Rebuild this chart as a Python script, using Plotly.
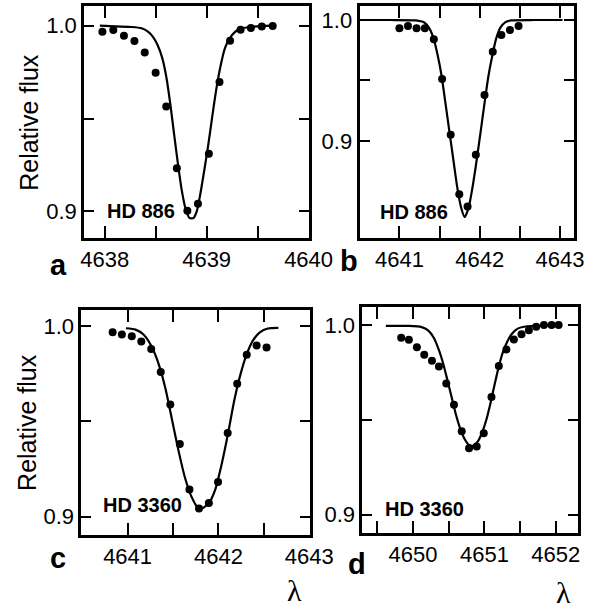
import plotly.graph_objects as go

# ---------------- data ----------------
# Panel a : HD 886, 4638-4640
a_dots_x = [4637.978, 4638.085, 4638.189, 4638.292, 4638.393, 4638.500, 4638.604, 4638.708, 4638.811,
            4638.915, 4639.022, 4639.126, 4639.230, 4639.333, 4639.434, 4639.541, 4639.648]
a_dots_y = [0.9968, 0.9977, 0.9946, 0.9918, 0.9855, 0.9746, 0.9565, 0.9233, 0.9004,
            0.9041, 0.9310, 0.9697, 0.9919, 0.9978, 0.9987, 0.9996, 0.9998]
a_line_x = [4637.953, 4638.110, 4638.267, 4638.362, 4638.425, 4638.472, 4638.519, 4638.566, 4638.607,
            4638.645, 4638.682, 4638.720, 4638.758, 4638.796, 4638.833, 4638.871, 4638.903, 4638.934,
            4638.975, 4639.016, 4639.053, 4639.091, 4639.132, 4639.179, 4639.226, 4639.274, 4639.321,
            4639.431, 4639.541, 4639.651]
a_line_y = [1.0, 0.9996, 0.9993, 0.9986, 0.9968, 0.9941, 0.9896, 0.9824, 0.9717,
            0.9573, 0.9412, 0.9251, 0.9108, 0.9009, 0.8964, 0.8964, 0.9000, 0.9081,
            0.9215, 0.9358, 0.9502, 0.9645, 0.9771, 0.9878, 0.9932, 0.9964, 0.9982,
            0.9993, 0.9998, 1.0]

# Panel b : HD 886, 4641-4643
b_dots_x = [4641.000, 4641.107, 4641.214, 4641.317, 4641.429, 4641.532, 4641.639, 4641.746,
            4641.849, 4641.952, 4642.060, 4642.163, 4642.270, 4642.377, 4642.484]
b_dots_y = [0.9931, 0.9950, 0.9931, 0.9931, 0.9840, 0.9512, 0.9050, 0.8559,
            0.8457, 0.8884, 0.9380, 0.9738, 0.9876, 0.9917, 0.9950]
b_line_x = [4640.591, 4640.889, 4641.206, 4641.306, 4641.373, 4641.425, 4641.476, 4641.524,
            4641.571, 4641.623, 4641.675, 4641.722, 4641.770, 4641.813, 4641.861, 4641.909,
            4641.960, 4642.012, 4642.063, 4642.111, 4642.159, 4642.206, 4642.258, 4642.317,
            4642.397, 4642.675, 4643.032]
b_line_y = [1.0, 1.0, 0.9997, 0.9981, 0.9931, 0.9848, 0.9711, 0.9545,
            0.9325, 0.9077, 0.8829, 0.8609, 0.8444, 0.8369, 0.8444, 0.8609,
            0.8829, 0.9077, 0.9325, 0.9545, 0.9711, 0.9848, 0.9937, 0.9981,
            0.9997, 1.0, 1.0]

# Panel c : HD 3360, 4641-4643
c_dots_x = [4640.835, 4640.937, 4641.046, 4641.151, 4641.260, 4641.365, 4641.470, 4641.575,
            4641.681, 4641.786, 4641.895, 4641.996, 4642.102, 4642.207, 4642.312, 4642.421, 4642.530]
c_dots_y = [0.9968, 0.9956, 0.9947, 0.9919, 0.9880, 0.9759, 0.9589, 0.9381,
            0.9142, 0.9042, 0.9071, 0.9181, 0.9439, 0.9697, 0.9850, 0.9899, 0.9888]
c_line_x = [4640.982, 4641.088, 4641.175, 4641.263, 4641.351, 4641.421, 4641.491, 4641.561,
            4641.632, 4641.702, 4641.772, 4641.825, 4641.895, 4641.965, 4642.035, 4642.105,
            4642.175, 4642.246, 4642.316, 4642.386, 4642.456, 4642.544, 4642.660]
c_line_y = [0.9989, 0.9982, 0.9956, 0.9894, 0.9788, 0.9664, 0.9504, 0.9345,
            0.9204, 0.9106, 0.9048, 0.9044, 0.9071, 0.9142, 0.9274, 0.9434,
            0.9611, 0.9752, 0.9858, 0.9929, 0.9968, 0.9988, 0.9991]

# Panel d : HD 3360, 4650-4652
d_dots_x = [4649.834, 4649.942, 4650.054, 4650.157, 4650.265, 4650.363, 4650.466, 4650.574,
            4650.682, 4650.785, 4650.892, 4650.991, 4651.099, 4651.202, 4651.309, 4651.413,
            4651.520, 4651.623, 4651.726, 4651.834, 4651.942, 4652.040]
d_dots_y = [0.9933, 0.9922, 0.9883, 0.9843, 0.9811, 0.9781, 0.9691, 0.9580,
            0.9440, 0.9350, 0.9359, 0.9429, 0.9620, 0.9784, 0.9871, 0.9924,
            0.9951, 0.9972, 0.9991, 1.0, 1.0, 1.0]
d_line_x = [4649.619, 4649.942, 4650.121, 4650.211, 4650.291, 4650.368, 4650.426, 4650.480,
            4650.538, 4650.596, 4650.659, 4650.717, 4650.785, 4650.848, 4650.906, 4650.964,
            4651.027, 4651.085, 4651.143, 4651.197, 4651.256, 4651.323, 4651.386, 4651.466,
            4651.556, 4651.691, 4651.870, 4652.072]
d_line_y = [0.9995, 0.9995, 0.9989, 0.9972, 0.9933, 0.9862, 0.9792, 0.9712,
            0.9624, 0.9535, 0.9456, 0.9403, 0.9367, 0.9364, 0.9385, 0.9429,
            0.9500, 0.9588, 0.9686, 0.9774, 0.9853, 0.9915, 0.9954, 0.9981,
            0.9991, 0.9995, 0.9996, 1.0]

star_labels = ["HD 886", "HD 886", "HD 3360", "HD 3360"]
panel_letters = ["a", "b", "c", "d"]
# tick positions (labelled and unlabelled half-steps)
x_tickvals = [[4638, 4638.5, 4639, 4639.5, 4640],
              [4640.5, 4641, 4641.5, 4642, 4642.5, 4643],
              [4640.5, 4641, 4641.5, 4642, 4642.5, 4643],
              [4649.5, 4650, 4650.5, 4651, 4651.5, 4652]]
x_ticktext = [["4638", "", "4639", "", "4640"],
              ["", "4641", "", "4642", "", "4643"],
              ["", "4641", "", "4642", "", "4643"],
              ["", "4650", "", "4651", "", "4652"]]
y_tickvals = [0.9, 0.95, 1.0]
y_ticktext = ["0.9", "", "1.0"]

# ---------------- figure ----------------
W, H = 613, 610
FONT = "Liberation Sans, Arial, Helvetica, sans-serif"

panels = [
    dict(dx=a_dots_x, dy=a_dots_y, lx=a_line_x, ly=a_line_y,
         xr=[4637.80, 4640.003], yr=[0.8857, 1.0106], px=(85, 320), py=(6, 238),
         lab=(4638.0, 0.9005)),
    dict(dx=b_dots_x, dy=b_dots_y, lx=b_line_x, ly=b_line_y,
         xr=[4640.504, 4643.171], yr=[0.8196, 1.0116], px=(373, 597), py=(6, 238),
         lab=(4640.738, 0.8413)),
    dict(dx=c_dots_x, dy=c_dots_y, lx=c_line_x, ly=c_line_y,
         xr=[4640.491, 4643.007], yr=[0.8903, 1.0085], px=(82, 321), py=(310, 535),
         lab=(4640.712, 0.9062)),
    dict(dx=d_dots_x, dy=d_dots_y, lx=d_line_x, ly=d_line_y,
         xr=[4649.291, 4652.305], yr=[0.8903, 1.0095], px=(376, 601), py=(307, 533),
         lab=(4649.583, 0.9028)),
]

fig = go.Figure()
layout = dict(width=W, height=H, margin=dict(l=0, r=0, t=0, b=0),
              paper_bgcolor="white", plot_bgcolor="white", showlegend=False,
              font=dict(family=FONT, color="black"))
annotations = []

for i, p in enumerate(panels):
    n = "" if i == 0 else str(i + 1)
    xa, ya = "x" + n, "y" + n
    fig.add_trace(go.Scatter(x=p["lx"], y=p["ly"], mode="lines", xaxis=xa, yaxis=ya,
                             line=dict(color="black", width=2.2, shape="spline", smoothing=0.6),
                             hoverinfo="skip"))
    fig.add_trace(go.Scatter(x=p["dx"], y=p["dy"], mode="markers", xaxis=xa, yaxis=ya,
                             marker=dict(color="black", size=8)))
    common = dict(showline=True, linewidth=3, linecolor="black", mirror="ticks",
                  ticks="inside", tickwidth=2, tickcolor="black",
                  showgrid=False, zeroline=False,
                  tickfont=dict(family=FONT, size=22, color="black"))
    layout["xaxis" + n] = dict(common, range=p["xr"], anchor=ya,
                               domain=[p["px"][0] / W, p["px"][1] / W],
                               tickmode="array", tickvals=x_tickvals[i], ticktext=x_ticktext[i],
                               ticklen=12)
    layout["yaxis" + n] = dict(common, range=p["yr"], anchor=xa,
                               domain=[1 - p["py"][1] / H, 1 - p["py"][0] / H],
                               tickmode="array", tickvals=y_tickvals, ticktext=y_ticktext,
                               ticklen=10)
    annotations.append(dict(x=p["lab"][0], y=p["lab"][1], xref=xa, yref=ya,
                            text="<b>%s</b>" % star_labels[i], showarrow=False,
                            xanchor="left", yanchor="middle",
                            font=dict(family=FONT, size=20, color="black")))

letter_pos = [(58.5, 265), (361.5, 261), (57.5, 558), (370, 564)]
for t, (lx, ly) in zip(panel_letters, letter_pos):
    annotations.append(dict(x=lx / W, y=1 - ly / H, xref="paper", yref="paper",
                            text="<b>%s</b>" % t, showarrow=False,
                            xanchor="center", yanchor="middle",
                            font=dict(family=FONT, size=29, color="black")))

for (lx, ly) in [(27, 122), (25, 422)]:
    annotations.append(dict(x=lx / W, y=1 - ly / H, xref="paper", yref="paper",
                            text="Relative flux", textangle=-90, showarrow=False,
                            xanchor="center", yanchor="middle",
                            font=dict(family=FONT, size=25, color="black")))

for (lx, ly) in [(305, 590), (586.5, 592)]:
    annotations.append(dict(x=lx / W, y=1 - ly / H, xref="paper", yref="paper",
                            text="λ", showarrow=False,
                            xanchor="center", yanchor="middle",
                            font=dict(family="Liberation Serif, Times New Roman, serif",
                                      size=30, color="black")))

layout["annotations"] = annotations
fig.update_layout(**layout)
fig.write_html("out.html", config={"displayModeBar": False},
               post_script="document.body.style.margin='0';document.body.style.overflow='hidden';")
